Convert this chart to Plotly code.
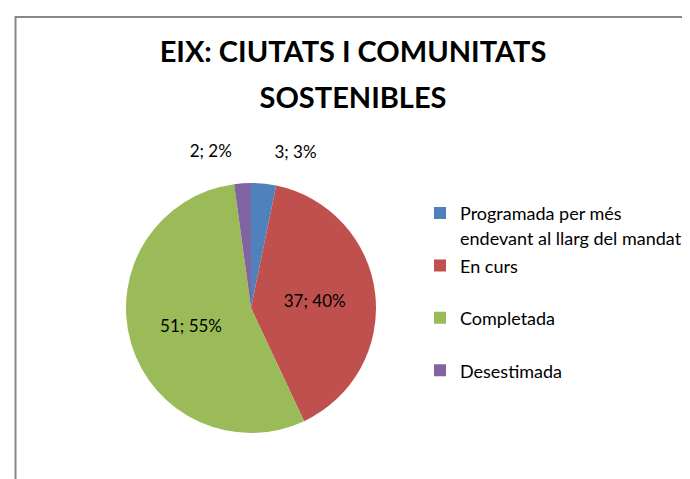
import plotly.graph_objects as go

categories = ["Programada per més<br>endevant al llarg del mandat", "En curs", "Completada", "Desestimada"]
values = [3, 37, 51, 2]
colors = ["#4F81BD", "#C0504D", "#9BBB59", "#8064A2"]
title_lines = ["EIX: CIUTATS I COMUNITATS", "SOSTENIBLES"]

W, H = 690, 479
FONT = "Lato, 'Open Sans', sans-serif"

# legend labels: pad some entries with blank lines to mimic spacing of the original legend
legend_pad = ["<br>{}", "{}", "<br>{}<br>", "{}"]
span = '<span style="font-size:18px">'
labels = [p.format(span + c.replace("<br>", "</span><br>" + span) + "</span>")
          for p, c in zip(legend_pad, categories)]

# outside labels get a trailing blank line so they sit further from the pie
tmpl = "%{value}; %{percent:.0%}"
templates = [tmpl + "<br> ", tmpl, tmpl, tmpl + "<br> "]

cx, cy, r = 243, 300, 125
fig = go.Figure(go.Pie(
    labels=labels,
    values=values,
    sort=False,
    direction="clockwise",
    rotation=0,
    marker=dict(colors=colors, line=dict(width=0)),
    texttemplate=templates,
    textposition=["outside", "inside", "inside", "outside"],
    insidetextorientation="horizontal",
    textfont=dict(family=FONT, size=17, color="#000000"),
    hoverinfo="label+value+percent",
    domain=dict(x=[(cx - r) / W, (cx + r) / W], y=[(H - cy - r) / H, (H - cy + r) / H]),
))

title_text = "<br>".join('<span style="font-size:29px"><b>%s</b></span>' % t for t in title_lines)

fig.update_layout(
    width=W, height=H,
    margin=dict(l=0, r=0, t=0, b=0),
    paper_bgcolor="white",
    plot_bgcolor="white",
    title=dict(text=title_text, x=0.5, xanchor="center", y=1 - 54 / H, yanchor="top",
               font=dict(family=FONT, size=35, color="#000000")),
    showlegend=True,
    legend=dict(x=412 / W, xanchor="left", y=1 - 161.5 / H, yanchor="top",
                font=dict(family=FONT, size=19, color="#000000"),
                bgcolor="rgba(0,0,0,0)", traceorder="normal"),
    shapes=[dict(type="path", xref="paper", yref="paper",
                 path="M %f,0 L %f,%f L 1,%f" % (7.5 / W, 7.5 / W, 1 - 9 / H, 1 - 9 / H),
                 line=dict(color="#878787", width=2))],
)

fig.write_html("out.html")
